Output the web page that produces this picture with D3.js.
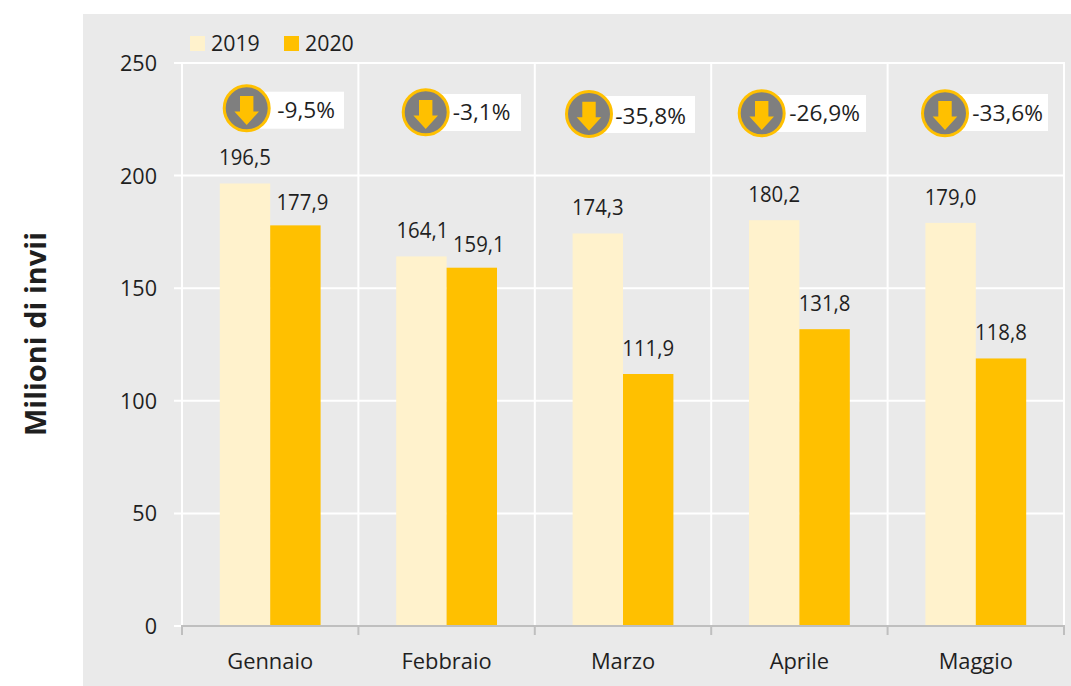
<!DOCTYPE html>
<html><head><meta charset="utf-8">
<script src="https://cdnjs.cloudflare.com/ajax/libs/d3/7.8.5/d3.min.js"></script>
<style>html,body{margin:0;padding:0;background:#fff}svg{display:block}text{font-family:"Open Sans","Noto Sans",sans-serif;fill:#1f1f1f}</style>
</head><body><svg id="c" width="1071" height="686"></svg>
<script>
const months = ["Gennaio","Febbraio","Marzo","Aprile","Maggio"];
const years = ["2019","2020"];
const values2019 = [196.5,164.1,174.3,180.2,179.0];
const values2020 = [177.9,159.1,111.9,131.8,118.8];
const changes = ["-9,5%","-3,1%","-35,8%","-26,9%","-33,6%"];
const yTicks = [0,50,100,150,200,250];
const yTitle = "Milioni di invii";

const W=1071,H=686;
const svg=d3.select("#c");
const fmt=v=>v.toFixed(1).replace(".",",");
const colors={"2019":"#FFF2CC","2020":"#FFC000"};
const FS=22;
function txt(parent,x0,y0,s,anchor,sq){
  const t=parent.append("text").attr("x",x0).attr("y",y0).attr("text-anchor",anchor||"start")
    .attr("font-size",FS).text(s);
  const n=t.node();
  t.attr("textLength",n.getComputedTextLength()*sq).attr("lengthAdjust","spacingAndGlyphs");
  return t;
}
svg.append("rect").attr("x",83).attr("y",14).attr("width",W-83).attr("height",H-14).attr("fill","#EAEAEA");

const x=d3.scaleBand().domain(months).range([182,1064]);
const xs=d3.scaleBand().domain(years).range([0,x.bandwidth()]).paddingInner(0).paddingOuter(0.75);
const y=d3.scaleLinear().domain([0,250]).range([626,63]);

// grid
const grid=svg.append("g").attr("stroke","#fff").attr("stroke-width",2);
yTicks.filter(t=>t>0).forEach(t=>grid.append("line").attr("x1",174).attr("x2",1065).attr("y1",y(t)).attr("y2",y(t)));
grid.append("line").attr("x1",174).attr("x2",182).attr("y1",y(0)).attr("y2",y(0));
months.forEach(m=>grid.append("line").attr("x1",x(m)).attr("x2",x(m)).attr("y1",63).attr("y2",626));
grid.append("line").attr("x1",1064).attr("x2",1064).attr("y1",63).attr("y2",626);

// bars and value labels
const labelDy=[[-18.5,-18.5,-18.7,-18,-18],[-15.4,-15.7,-18,-18,-18.5]];
const labelDx=[[0,1,0,0,0],[7,7,0,0,0]];
months.forEach((m,i)=>{
  [values2019[i],values2020[i]].forEach((v,j)=>{
    const yr=years[j];
    svg.append("rect").attr("x",x(m)+xs(yr)).attr("width",xs.bandwidth())
      .attr("y",y(v)).attr("height",y(0)-y(v)).attr("fill",colors[yr]);
    txt(svg,x(m)+xs(yr)+xs.bandwidth()/2+labelDx[j][i],y(v)+labelDy[j][i],fmt(v),"middle",0.925);
  });
});

// x axis
const axisY=y(0);
svg.append("line").attr("x1",182).attr("x2",1064).attr("y1",axisY).attr("y2",axisY).attr("stroke","#BFBFBF").attr("stroke-width",2);
[...months.map(m=>x(m)),1064].forEach(px=>svg.append("line").attr("x1",px).attr("x2",px).attr("y1",axisY-1).attr("y2",axisY+9).attr("stroke","#BFBFBF").attr("stroke-width",2));
months.forEach(m=>txt(svg,x(m)+x.bandwidth()/2,669,m,"middle",0.995));
yTicks.forEach(t=>txt(svg,157,y(t)+8,t,"end",0.98));

// y title
svg.append("text").attr("transform","translate(46,334) rotate(-90)").attr("text-anchor","middle")
  .attr("font-size",29).attr("font-weight",700).text(yTitle);

// legend
[[190,"2019",211],[284,"2020",305]].forEach(([lx,t,tx])=>{
  svg.append("rect").attr("x",lx).attr("y",36).attr("width",15).attr("height",15).attr("fill",colors[t]);
  txt(svg,tx,51,t,"start",0.97);
});

// callouts
const callX=[246.7,425.7,589,761.7,945], callY=[108.3,112.3,114,113.3,113.3];
const boxTop=[91.7,94,96,95,94], boxR=[344,521,695,866,1048];
const textR=[335,510.5,686,860,1043], textBase=[118,120,124,120.7,120.7];
changes.forEach((c,i)=>{
  const g=svg.append("g"), cx=callX[i], cy=callY[i];
  g.append("rect").attr("x",cx).attr("y",boxTop[i]).attr("width",boxR[i]-cx).attr("height",37).attr("fill","#fff");
  g.append("circle").attr("cx",cx).attr("cy",cy).attr("r",22.5).attr("fill","#7F7F7F").attr("stroke","#FFC000").attr("stroke-width",3);
  g.append("path").attr("d",d3.line()([[cx-6.7,cy-12.3],[cx+6.7,cy-12.3],[cx+6.7,cy+3.3],[cx+12.3,cy+3.3],[cx,cy+16.7],[cx-12.3,cy+3.3],[cx-6.7,cy+3.3]])+"Z").attr("fill","#FFC000");
  txt(g,textR[i],textBase[i],c,"end",1.03);
});
</script></body></html>
